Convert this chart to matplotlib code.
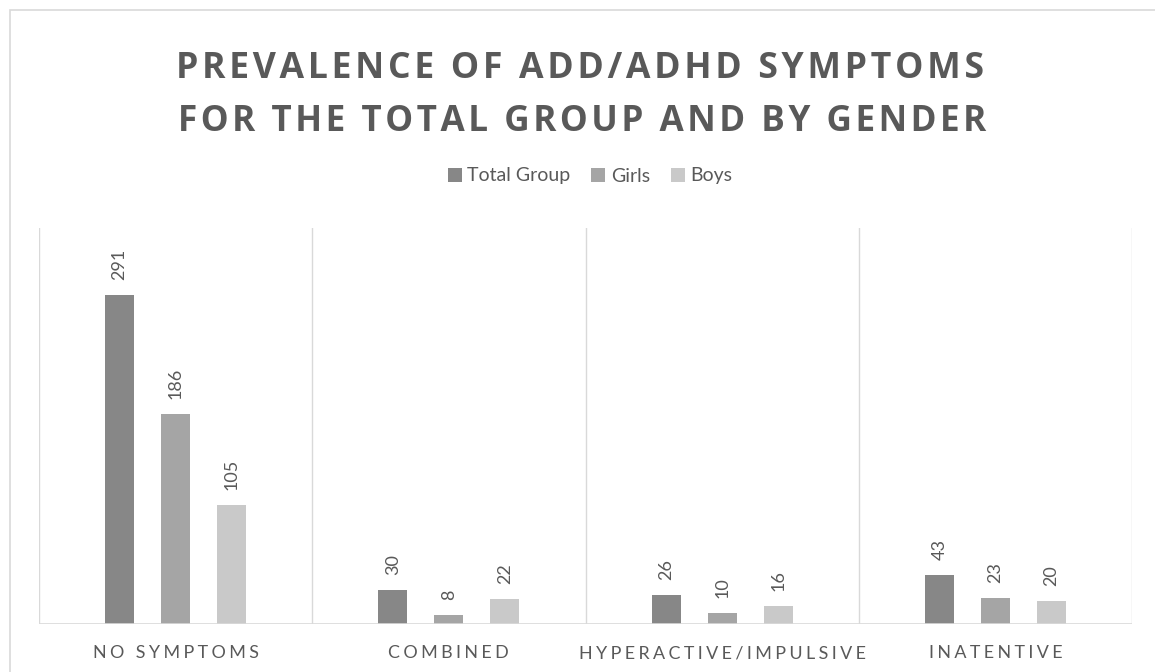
import matplotlib
matplotlib.use("Agg")
import matplotlib.pyplot as plt
import numpy as np
from matplotlib.patches import Rectangle, Patch
from matplotlib.font_manager import FontProperties
from matplotlib.transforms import blended_transform_factory

categories = ["NO SYMPTOMS", "COMBINED", "HYPERACTIVE/IMPULSIVE", "INATENTIVE"]
series_names = ["Total Group", "Girls", "Boys"]
total_group = [291, 30, 26, 43]
girls = [186, 8, 10, 23]
boys = [105, 22, 16, 20]
title_lines = ["PREVALENCE OF ADD/ADHD SYMPTOMS", "FOR THE TOTAL GROUP AND BY GENDER"]

colors = ["#878787", "#a5a5a5", "#c9c9c9"]
text_gray = "#595959"
grid_gray = "#d9d9d9"
FAM = ["Lato", "DejaVu Sans"]
TFAM = ["Open Sans", "DejaVu Sans"]

W, H = 1155, 672
fig = plt.figure(figsize=(W / 100, H / 100), dpi=100)
fig.patch.set_facecolor("white")
renderer = fig.canvas.get_renderer()

SPACERS = ["", "\u200a", "\u2009", "\u2006", "\u2005", "\u2004", " ",
           "\u2009\u200a", "\u2009\u2009", " \u200a", " \u2009", "  "]


def fit_tracking(text, size, target_px, family, weight="normal"):
    """Pick letter spacing (and a small size tweak) so that text spans target_px."""
    best = None
    for spc in SPACERS:
        prop = FontProperties(family=family, weight=weight, size=size)
        s = spc.join(list(text))
        w = renderer.get_text_width_height_descent(s, prop, ismath=False)[0]
        if best is None or abs(w - target_px) < best[0]:
            best = (abs(w - target_px), spc, w)
    spc, w = best[1], best[2]
    new_size = size * min(1.08, max(0.92, target_px / w))
    return spc, new_size


def fy(py):
    return 1 - py / H


# outer chart border
fig.add_artist(Rectangle((10 / W, -0.1), 1.2, (H - 10) / H + 0.1, transform=fig.transFigure,
                         fill=False, edgecolor=grid_gray, linewidth=1.2))

ax = fig.add_axes([39 / W, (H - 624) / H, (1132 - 39) / W, (624 - 228) / H])
x = np.arange(len(categories))
bw = 0.106
sp = 0.205
data = [total_group, girls, boys]
for i, (vals, c, name) in enumerate(zip(data, colors, series_names)):
    xs = x + (i - 1) * sp
    ax.bar(xs, vals, width=bw, color=c, label=name, zorder=3)
    for xx, v in zip(xs, vals):
        ax.annotate(str(v), (xx, v), xytext=(0, 15), textcoords="offset pixels",
                    rotation=90, ha="center", va="bottom", fontsize=13,
                    color=text_gray, family=FAM)

ax.set_xlim(-0.5, len(categories) - 0.5)
ax.set_ylim(0, 350)
for b in np.arange(-0.5, len(categories), 1.0):
    ax.axvline(b, color=grid_gray, linewidth=1.0, zorder=1)
ax.axhline(0, color=grid_gray, linewidth=1.2, zorder=4)
for s in ax.spines.values():
    s.set_visible(False)
ax.set_yticks([])
ax.set_xticks([])

# category labels with letter spacing
cat_spc, cat_size = fit_tracking(categories[0], 12.5, 166, FAM)
trans = blended_transform_factory(ax.transData, fig.transFigure)
for xi, c in zip(x, categories):
    ax.text(xi, fy(658.5), cat_spc.join(list(c)), transform=trans, ha="center",
            va="baseline", fontsize=cat_size, color=text_gray, family=FAM)

# title
t_targets = [(805, 580.5, 78.5), (810, 582, 131)]
for line, (tw, cx, by) in zip(title_lines, t_targets):
    spc, size = fit_tracking(line, 27, tw, TFAM, weight="bold")
    fig.text(cx / W, fy(by), spc.join(list(line)), ha="center", va="baseline",
             fontsize=size, fontweight="bold", color=text_gray, family=TFAM)

handles = [Patch(facecolor=c, edgecolor="none") for c in colors]
fig.legend(handles, series_names, loc="center", bbox_to_anchor=(590 / W, fy(176)),
           ncol=3, frameon=False, prop={"family": FAM, "size": 14},
           labelcolor=text_gray, handlelength=0.72, handleheight=0.72,
           handletextpad=0.3, columnspacing=1.05, borderpad=0)

fig.savefig("out.png", dpi=100)
